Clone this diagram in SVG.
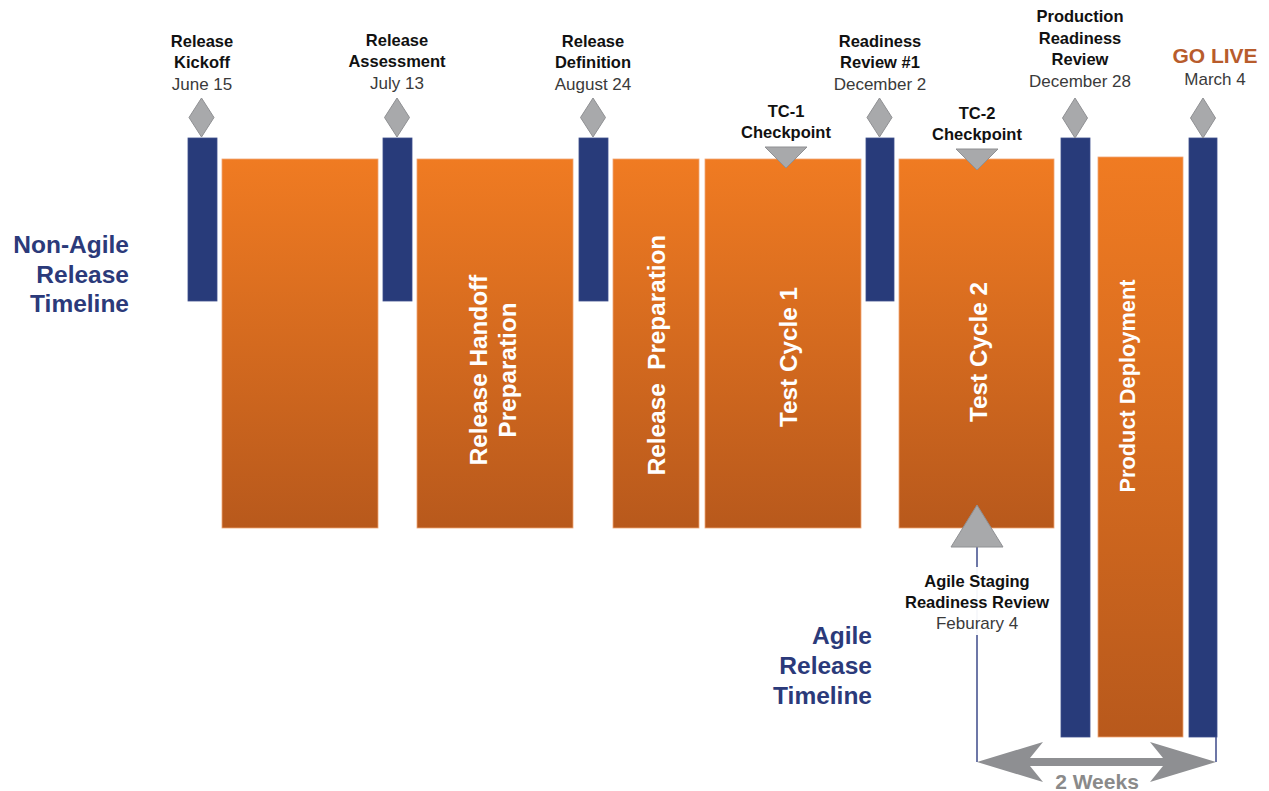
<svg xmlns="http://www.w3.org/2000/svg" width="1269" height="791" viewBox="0 0 1269 791">
<defs>
<linearGradient id="og" x1="0" y1="0" x2="0" y2="1">
<stop offset="0" stop-color="#f07b22"/>
<stop offset="1" stop-color="#b8591c"/>
</linearGradient>
<style>
.blue{fill:#283b7a;stroke:#3d4f8c;stroke-width:0.8}
.orange{fill:url(#og);stroke:#f1a574;stroke-width:0.8}
.dia{fill:#a8a9ab;stroke:#8f9093;stroke-width:1}
.tri{fill:#a8a9ab;stroke:#8f9093;stroke-width:1}
.h{font-family:"Liberation Sans",Arial,sans-serif;font-weight:bold;font-size:16.5px;fill:#111;text-anchor:middle}
.d{font-family:"Liberation Sans",Arial,sans-serif;font-size:17px;fill:#3a3a3a;text-anchor:middle}
.v{font-family:"Liberation Sans",Arial,sans-serif;font-weight:bold;font-size:24.3px;fill:#fff;text-anchor:middle}
.t{font-family:"Liberation Sans",Arial,sans-serif;font-weight:bold;font-size:24.5px;fill:#2b3a7a;text-anchor:end}
</style>
</defs>
<rect width="1269" height="791" fill="#fff"/>

<g id="labels-side">
<text class="t" x="129" y="253">Non-Agile</text>
<text class="t" x="129" y="283">Release</text>
<text class="t" x="129" y="312">Timeline</text>
<text class="t" x="872" y="644">Agile</text>
<text class="t" x="872" y="674">Release</text>
<text class="t" x="872" y="704">Timeline</text>
</g>

<g id="connectors">
<line x1="977" y1="547" x2="977" y2="762" stroke="#3d4a8a" stroke-width="1.5"/>
<line x1="1216" y1="737" x2="1216" y2="762" stroke="#3d4a8a" stroke-width="1.5"/>
<path d="M977,762 L1043,742 L1030,758 L1163,758 L1150,742 L1216,762 L1150,782 L1163,766 L1030,766 L1043,782 Z" fill="#8e8f92"/>
<text x="1097" y="789" font-family="'Liberation Sans',Arial,sans-serif" font-weight="bold" font-size="21" fill="#8a8a8a" text-anchor="middle">2 Weeks</text>
</g>

<g id="kickoff">
<rect class="blue" x="188" y="138" width="29" height="163"/>
<polygon class="dia" points="201.5,98 214,117.5 201.5,137 189,117.5"/>
<text class="h" x="202" y="47">Release</text>
<text class="h" x="202" y="68">Kickoff</text>
<text class="d" x="202" y="90">June 15</text>
</g>

<g id="assessment">
<rect class="blue" x="383" y="138" width="29" height="163"/>
<polygon class="dia" points="397,98 409.5,117.5 397,137 384.5,117.5"/>
<text class="h" x="397" y="46">Release</text>
<text class="h" x="397" y="67">Assessment</text>
<text class="d" x="397" y="89">July 13</text>
</g>

<g id="definition">
<rect class="blue" x="579" y="138" width="29" height="163"/>
<polygon class="dia" points="593,98 605.5,117.5 593,137 580.5,117.5"/>
<text class="h" x="593" y="47">Release</text>
<text class="h" x="593" y="68">Definition</text>
<text class="d" x="593" y="90">August 24</text>
</g>

<g id="readiness1">
<rect class="blue" x="866" y="138" width="28" height="163"/>
<polygon class="dia" points="879.5,98 892,117.5 879.5,137 867,117.5"/>
<text class="h" x="880" y="47">Readiness</text>
<text class="h" x="880" y="68">Review #1</text>
<text class="d" x="880" y="90">December 2</text>
</g>

<g id="prod-readiness">
<rect class="blue" x="1061" y="138" width="29" height="599"/>
<polygon class="dia" points="1075,98 1087.5,118 1075,138 1062.5,118"/>
<text class="h" x="1080" y="22">Production</text>
<text class="h" x="1080" y="44">Readiness</text>
<text class="h" x="1080" y="65">Review</text>
<text class="d" x="1080" y="87">December 28</text>
</g>

<g id="golive">
<rect class="blue" x="1189" y="138" width="28" height="599"/>
<polygon class="dia" points="1203,98 1215.5,118 1203,138 1190.5,118"/>
<text x="1215" y="63" font-family="'Liberation Sans',Arial,sans-serif" font-weight="bold" font-size="21" fill="#b85c2c" text-anchor="middle">GO LIVE</text>
<text class="d" x="1215" y="85">March 4</text>
</g>

<g id="phase1">
<rect class="orange" x="222" y="159" width="156" height="369"/>
</g>

<g id="handoff">
<rect class="orange" x="417" y="159" width="156" height="369"/>
<text class="v" transform="translate(487,370) rotate(-90)">Release Handoff</text>
<text class="v" transform="translate(516,370) rotate(-90)">Preparation</text>
</g>

<g id="preparation">
<rect class="orange" x="613" y="159" width="86" height="369"/>
<text class="v" transform="translate(665,355) rotate(-90)" xml:space="preserve">Release  Preparation</text>
</g>

<g id="testcycle1">
<rect class="orange" x="705" y="159" width="156" height="369"/>
<text class="v" transform="translate(797,357) rotate(-90)">Test Cycle 1</text>
<polygon class="tri" points="765,147 807,147 786,168"/>
<text class="h" x="786" y="117">TC-1</text>
<text class="h" x="786" y="138">Checkpoint</text>
</g>

<g id="testcycle2">
<rect class="orange" x="899" y="159" width="155" height="369"/>
<text class="v" transform="translate(987,352) rotate(-90)">Test Cycle 2</text>
<polygon class="tri" points="956,149 998,149 977,170"/>
<text class="h" x="977" y="119">TC-2</text>
<text class="h" x="977" y="140">Checkpoint</text>
</g>

<g id="deployment">
<rect class="orange" x="1098" y="157" width="85" height="580"/>
<text class="v" style="font-size:21.8px" transform="translate(1135,386) rotate(-90)">Product Deployment</text>
</g>

<g id="agile-staging">
<polygon class="tri" points="977,505 1003,547 951,547"/>
<rect x="902" y="567" width="158" height="68" fill="#fff" fill-opacity="0.95"/>
<text class="h" x="977" y="587">Agile Staging</text>
<text class="h" x="977" y="608">Readiness Review</text>
<text class="d" x="977" y="629">Feburary 4</text>
</g>
</svg>
